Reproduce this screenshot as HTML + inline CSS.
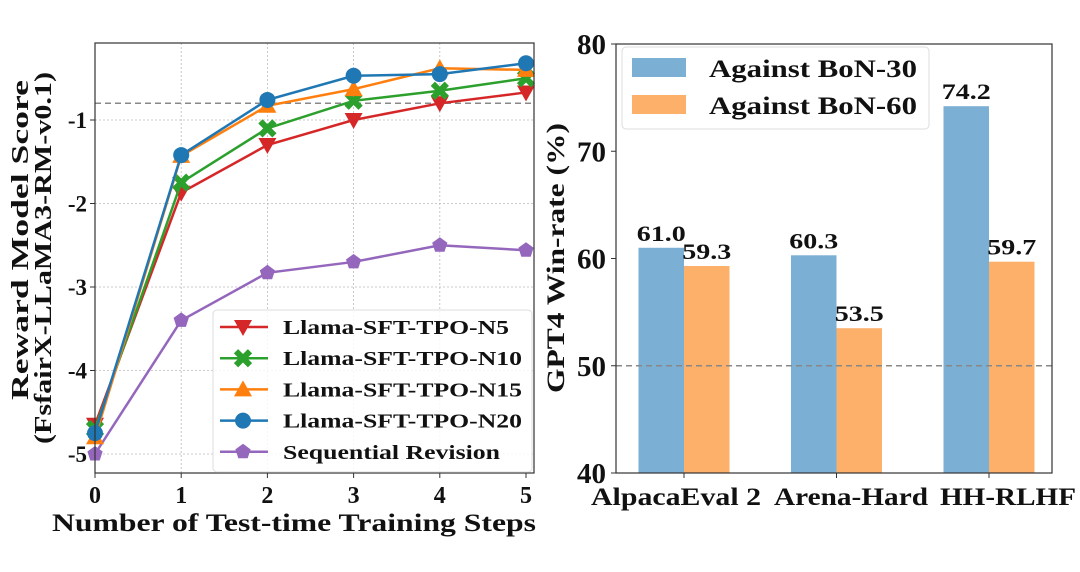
<!DOCTYPE html>
<html><head><meta charset="utf-8"><style>
html,body{margin:0;padding:0;background:#fff;}
svg text{font-family:"Liberation Serif",serif;font-weight:bold;fill:#111;}
</style></head><body>
<svg id="fig" width="1080" height="567" viewBox="0 0 1080 567">
<g id="left"></g>
<g id="right"></g>
</svg>
<script>
const steps = [0,1,2,3,4,5];
const seriesNames = ["Llama-SFT-TPO-N5","Llama-SFT-TPO-N10","Llama-SFT-TPO-N15","Llama-SFT-TPO-N20","Sequential Revision"];
const n5 = [-4.65,-1.87,-1.3,-1.0,-0.8,-0.67];
const n10 = [-4.7,-1.75,-1.1,-0.77,-0.65,-0.5];
const n15 = [-4.8,-1.43,-0.83,-0.63,-0.38,-0.4];
const n20 = [-4.75,-1.42,-0.76,-0.47,-0.45,-0.32];
const seqRev = [-5.0,-3.4,-2.83,-2.7,-2.5,-2.56];
const yTicksL = [-1,-2,-3,-4,-5];
const refLineL = -0.8;

const benchmarks = ["AlpacaEval 2","Arena-Hard","HH-RLHF"];
const bon30 = [61.0,60.3,74.2];
const bon60 = [59.3,53.5,59.7];
const yTicksR = [40,50,60,70,80];
const refLineR = 50;

const NS="http://www.w3.org/2000/svg";
function mk(tag,attrs,parent,text){const e=document.createElementNS(NS,tag);for(const k in attrs)e.setAttribute(k,attrs[k]);if(text!==undefined)e.textContent=text;parent.appendChild(e);return e;}

// LEFT
const L=document.getElementById('left');
const lx=v=>95+v*86.2;
const ly=v=>120-(v+1)*83.5;
const LB={x0:95,x1:534,y0:43,y1:473};
steps.forEach(s=>{if(s>0&&s<5){const g=mk('line',{x1:lx(s),x2:lx(s),y1:LB.y0,y2:LB.y1,stroke:'#bbb','stroke-width':0.8,'stroke-dasharray':'2,2'},L);}});
yTicksL.forEach(t=>{const g=mk('line',{x1:LB.x0,x2:LB.x1,y1:ly(t),y2:ly(t),stroke:'#bbb','stroke-width':0.8,'stroke-dasharray':'2,2'},L);
 const tk=mk('line',{x1:LB.x0-5,x2:LB.x0,y1:ly(t),y2:ly(t),stroke:'#333','stroke-width':1},L);
 const tl=mk('text',{x:LB.x0-8,y:ly(t)+8,'text-anchor':'end','font-size':23},L,String(t));});
steps.forEach(s=>{const tk=mk('line',{x1:lx(s),x2:lx(s),y1:LB.y1,y2:LB.y1+5,stroke:'#333','stroke-width':1},L);
 const tl=mk('text',{x:lx(s),y:503,'text-anchor':'middle','font-size':24},L,String(s));});
const rl=mk('line',{x1:LB.x0,x2:LB.x1,y1:ly(refLineL),y2:ly(refLineL),stroke:'#888','stroke-width':1.5,'stroke-dasharray':'6,4'},L);

const colors=['#d62728','#2ca02c','#ff7f0e','#1f77b4','#9467bd'];
const allS=[n5,n10,n15,n20,seqRev];
const marks=['tri-down','x','tri-up','circle','pent'];
function marker(type,cx,cy,c,p){let e;
 if(type==='circle')e=mk('circle',{cx:cx,cy:cy,r:8,fill:c},p);
 else if(type==='tri-down')e=mk('polygon',{points:`${cx-9},${cy-7} ${cx+9},${cy-7} ${cx},${cy+9}`,fill:c},p);
 else if(type==='tri-up')e=mk('polygon',{points:`${cx-9},${cy+7} ${cx+9},${cy+7} ${cx},${cy-9}`,fill:c},p);
 else if(type==='x')e=mk('path',{d:`M${cx-7},${cy-7}L${cx+7},${cy+7}M${cx+7},${cy-7}L${cx-7},${cy+7}`,stroke:c,'stroke-width':6},p);
 else {const pts=[];for(let i=0;i<5;i++){const a=-Math.PI/2+i*2*Math.PI/5;pts.push((cx+8*Math.cos(a))+','+(cy+8*Math.sin(a)));}e=mk('polygon',{points:pts.join(' '),fill:c},p);}
 return e;}
[4,0,1,2,3].forEach(i=>{const d=allS[i];
 const pl=mk('polyline',{points:steps.map((s,j)=>lx(s)+','+ly(d[j])).join(' '),fill:'none',stroke:colors[i],'stroke-width':2.5},L);
 
 steps.forEach((s,j)=>{const m=marker(marks[i],lx(s),ly(d[j]),colors[i],L);});});
const lb=mk('rect',{x:LB.x0,y:LB.y0,width:LB.x1-LB.x0,height:LB.y1-LB.y0,fill:'none',stroke:'#333','stroke-width':1.2},L);

const lg=mk('g',{},L);
mk('rect',{x:213,y:310,width:319,height:162,rx:4,fill:'rgba(255,255,255,0.85)',stroke:'#ddd'},lg);
const legW=[226,239,239,239,217];
seriesNames.forEach((n,i)=>{const y=327+i*31.2;
 mk('line',{x1:220,x2:268,y1:y,y2:y,stroke:colors[i],'stroke-width':2.5},lg);
 marker(marks[i],243,y,colors[i],lg);
 const t=mk('text',{x:283,y:y+7,'font-size':20,textLength:legW[i],lengthAdjust:'spacingAndGlyphs'},lg,n);});
const xt=mk('text',{x:52,y:531,'font-size':25,textLength:484,lengthAdjust:'spacingAndGlyphs'},L,'Number of Test-time Training Steps');

const yt1=mk('text',{x:0,y:0,'font-size':24,'text-anchor':'middle',transform:'translate(28,240) rotate(-90)',textLength:320,lengthAdjust:'spacingAndGlyphs'},L,'Reward Model Score');

const yt2=mk('text',{x:0,y:0,'font-size':24,'text-anchor':'middle',transform:'translate(51,258) rotate(-90)',textLength:372,lengthAdjust:'spacingAndGlyphs'},L,'(FsfairX-LLaMA3-RM-v0.1)');


// RIGHT
const R=document.getElementById('right');
const RB={x0:616,x1:1052,y0:44,y1:473};
const ry=v=>RB.y1-(v-40)*(RB.y1-RB.y0)/40;
const cx=i=>684+i*152.5;
const bw=45.5;
yTicksR.forEach(t=>{const tk=mk('line',{x1:RB.x0-5,x2:RB.x0,y1:ry(t),y2:ry(t),stroke:'#333'},R);
 const tl=mk('text',{x:RB.x0-10,y:ry(t)+10,'text-anchor':'end','font-size':28,textLength:29,lengthAdjust:'spacingAndGlyphs'},R,String(t));});
const xlW=[170,154,136];
const xlC=[676,851,1008];
benchmarks.forEach((b,i)=>{
 const r1=mk('rect',{x:cx(i)-bw,y:ry(bon30[i]),width:bw,height:RB.y1-ry(bon30[i]),fill:'#7bafd4'},R);
 const r2=mk('rect',{x:cx(i),y:ry(bon60[i]),width:bw,height:RB.y1-ry(bon60[i]),fill:'#fdb06a'},R);
 const v1=mk('text',{x:cx(i)-bw/2,y:ry(bon30[i])-7,'text-anchor':'middle','font-size':22,textLength:49,lengthAdjust:'spacingAndGlyphs'},R,bon30[i].toFixed(1));
 const v2=mk('text',{x:cx(i)+bw/2,y:ry(bon60[i])-7,'text-anchor':'middle','font-size':22,textLength:49,lengthAdjust:'spacingAndGlyphs'},R,bon60[i].toFixed(1));
 const tk=mk('line',{x1:cx(i),x2:cx(i),y1:RB.y1,y2:RB.y1+5,stroke:'#333'},R);
 const tl=mk('text',{x:xlC[i],y:505,'text-anchor':'middle','font-size':25,textLength:xlW[i],lengthAdjust:'spacingAndGlyphs'},R,b);});
const rr=mk('line',{x1:RB.x0,x2:RB.x1,y1:ry(refLineR),y2:ry(refLineR),stroke:'#888','stroke-width':1.5,'stroke-dasharray':'6,4'},R);

const rb=mk('rect',{x:RB.x0,y:RB.y0,width:RB.x1-RB.x0,height:RB.y1-RB.y0,fill:'none',stroke:'#333','stroke-width':1.2},R);

const rg=mk('g',{},R);
mk('rect',{x:622,y:47,width:307,height:82,rx:4,fill:'rgba(255,255,255,0.85)',stroke:'#ddd'},rg);
mk('rect',{x:632,y:58,width:54,height:19,fill:'#7bafd4'},rg);
mk('rect',{x:632,y:95,width:54,height:19,fill:'#fdb06a'},rg);
const le1=mk('text',{x:709,y:77,'font-size':25,textLength:208,lengthAdjust:'spacingAndGlyphs'},rg,'Against BoN-30');
const le2=mk('text',{x:709,y:114,'font-size':25,textLength:208,lengthAdjust:'spacingAndGlyphs'},rg,'Against BoN-60');
const ryt=mk('text',{x:0,y:0,'font-size':25,'font-weight':'normal','text-anchor':'middle',transform:'translate(564,258) rotate(-90)',textLength:270,lengthAdjust:'spacingAndGlyphs'},R,'GPT4 Win-rate (%)');

</script>
</body></html>
